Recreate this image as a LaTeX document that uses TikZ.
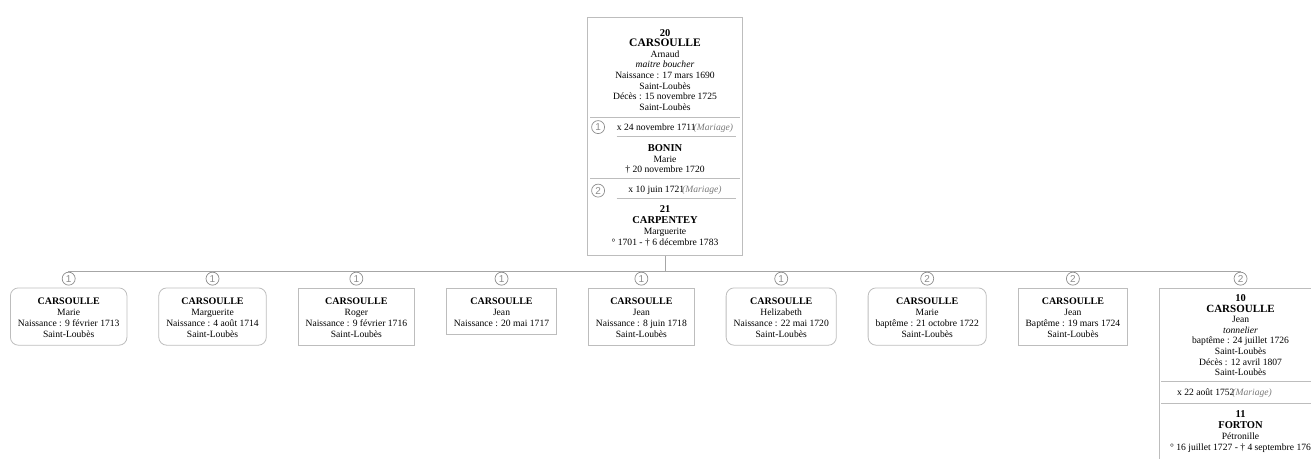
\documentclass[tikz,border=0pt]{standalone}
\usepackage{fontspec}
\setmainfont{Liberation Serif}
\newfontfamily\chiffre{Liberation Sans}
\usetikzlibrary{positioning}
\definecolor{gcadre}{HTML}{BDBDBD}
\definecolor{glien}{HTML}{A6A6A6}
\definecolor{grang}{HTML}{8C8C8C}
\definecolor{gmar}{HTML}{7A7A7A}

\newcommand{\petit}{\fontsize{9.6}{10.6}\selectfont}
\newcommand{\sosa}[1]{{\fontsize{10.5}{10.6}\selectfont\bfseries #1}}
\newcommand{\nom}[1]{{\fontsize{10.5}{10.6}\selectfont\bfseries #1}}
% nom d'un enfant, avec la marge du haut de la boite
\newcommand{\nomenf}[1]{\rule{0pt}{13pt}{\fontsize{10}{11}\selectfont\bfseries #1}}
\newcommand{\mariage}{\kern-2pt\textcolor{gmar}{\textit{(Mariage)}}}

\begin{document}
\begin{tikzpicture}[x=1pt,y=-1pt,
  font=\petit,
  cadre/.style={draw=gcadre,line width=0.8pt,inner sep=0pt},
  enfant/.style={draw=gcadre,line width=0.8pt,align=center,
                 font=\fontsize{9.6}{11}\selectfont,
                 inner xsep=7.5pt,inner ysep=4pt},
  fille/.style={enfant,rounded corners=8pt},
  bloc/.style={align=center,inner sep=0pt,anchor=base},
  rang/.style={circle,draw=grang,line width=0.7pt,minimum size=13pt,
               inner sep=0pt,text=grang,
               font=\chiffre\fontsize{10}{10}\selectfont},
  trait/.style={draw=gcadre,line width=0.7pt},
  lien/.style={draw=glien,line width=0.8pt}
]
\useasboundingbox (0,0) rectangle (1311,458);
\clip (0,0) rectangle (1311,458);

% couple 20 / 21 (les blocs sont places par leur derniere ligne)
\node[cadre,minimum width=155pt,minimum height=238pt] (p20) at (665,136.5) {};
\node[below=93.2pt of p20.north,bloc] (t20)
  {\sosa{20}\\{\fontsize{11.5}{10.6}\selectfont\bfseries CARSOULLE}\\Arnaud\\
   \textit{maitre boucher}\\Naissance : 17 mars 1690\\Saint-Loubès\\
   Décès : 15 novembre 1725\\Saint-Loubès};
\draw[trait] ([xshift=3pt,yshift=-100pt]p20.north west)
  -- ([xshift=-3pt,yshift=-100pt]p20.north east);
\node[rang] (r1) at ([xshift=11pt,yshift=-110pt]p20.north west) {1};
\node[below=113.5pt of p20.north,xshift=10pt,bloc] (m1)
  {x 24 novembre 1711\mariage};
\draw[trait] ([xshift=29.5pt,yshift=-119pt]p20.north west)
  -- ([xshift=-6.5pt,yshift=-119pt]p20.north east);
\node[below=155.7pt of p20.north,bloc] (bonin)
  {\nom{BONIN}\\Marie\\† 20 novembre 1720};
\draw[trait] ([xshift=3pt,yshift=-161pt]p20.north west)
  -- ([xshift=-3pt,yshift=-161pt]p20.north east);
\node[rang] (r2) at ([xshift=11pt,yshift=-173.5pt]p20.north west) {2};
\node[below=175pt of p20.north,xshift=10pt,bloc] (m2)
  {x 10 juin 1721\mariage};
\draw[trait] ([xshift=29.5pt,yshift=-181pt]p20.north west)
  -- ([xshift=-6.5pt,yshift=-181pt]p20.north east);
\node[below=228.5pt of p20.north,bloc,font=\fontsize{9.6}{11}\selectfont] (t21)
  {\sosa{21}\\\nom{CARPENTEY}\\Marguerite\\° 1701 - † 6 décembre 1783};

% enfants
\node[fille,anchor=north west] (c1) at (10,287.5)
  {\nomenf{CARSOULLE}\\Marie\\Naissance : 9 février 1713\\Saint-Loubès\strut};
\node[fille,right=31pt of c1.north east,anchor=north west] (c2)
  {\nomenf{CARSOULLE}\\Marguerite\\Naissance : 4 août 1714\\Saint-Loubès\strut};
\node[enfant,right=31pt of c2.north east,anchor=north west] (c3)
  {\nomenf{CARSOULLE}\\Roger\\Naissance : 9 février 1716\\Saint-Loubès\strut};
\node[enfant,right=31pt of c3.north east,anchor=north west] (c4)
  {\nomenf{CARSOULLE}\\Jean\\Naissance : 20 mai 1717\strut};
\node[enfant,right=31pt of c4.north east,anchor=north west] (c5)
  {\nomenf{CARSOULLE}\\Jean\\Naissance : 8 juin 1718\\Saint-Loubès\strut};
\node[fille,right=31pt of c5.north east,anchor=north west] (c6)
  {\nomenf{CARSOULLE}\\Helizabeth\\Naissance : 22 mai 1720\\Saint-Loubès\strut};
\node[fille,right=31pt of c6.north east,anchor=north west] (c7)
  {\nomenf{CARSOULLE}\\Marie\\baptême : 21 octobre 1722\\Saint-Loubès\strut};
\node[enfant,right=31pt of c7.north east,anchor=north west] (c8)
  {\nomenf{CARSOULLE}\\Jean\\Baptême : 19 mars 1724\\Saint-Loubès\strut};

% couple 10 / 11
\node[cadre,right=31pt of c8.north east,anchor=north west,
      minimum width=162pt,minimum height=200pt] (p10) {};
\node[below=88.2pt of p10.north,bloc] (t10)
  {\sosa{10}\\{\fontsize{11}{10.6}\selectfont\bfseries CARSOULLE}\\Jean\\
   \textit{tonnelier}\\baptême : 24 juillet 1726\\Saint-Loubès\\
   Décès : 12 avril 1807\\Saint-Loubès};
\draw[trait] ([xshift=2pt,yshift=-93.5pt]p10.north west)
  -- ([xshift=-2pt,yshift=-93.5pt]p10.north east);
\node[below=108pt of p10.north,xshift=-16pt,bloc] (m3)
  {x 22 août 1752\mariage};
\draw[trait] ([xshift=2pt,yshift=-115.5pt]p10.north west)
  -- ([xshift=-2pt,yshift=-115.5pt]p10.north east);
\node[below=163pt of p10.north,bloc,font=\fontsize{9.6}{11}\selectfont] (t11)
  {\sosa{11}\\\nom{FORTON}\\Pétronille\\° 16 juillet 1727 - † 4 septembre 176};

% liens
\coordinate[below=15.5pt of p20.south] (barre);
\draw[lien] (p20.south) -- (barre);
\foreach \r/\c/\n in {k1/c1/1,k2/c2/1,k3/c3/1,k4/c4/1,k5/c5/1,
                      k6/c6/1,k7/c7/2,k8/c8/2,k9/p10/2}{
  \node[rang,above=2pt of \c] (\r) {\n};
  \draw[lien] (\r) -- (\r |- barre);
}
\draw[lien] (k1 |- barre) -- (k9 |- barre);
\end{tikzpicture}
\end{document}
